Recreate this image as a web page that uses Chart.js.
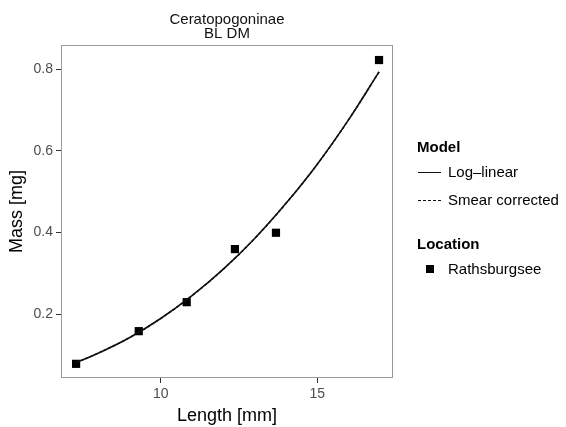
<!DOCTYPE html>
<html>
<head>
<meta charset="utf-8">
<title>Ceratopogoninae BL DM</title>
<script src="https://cdn.jsdelivr.net/npm/chart.js@4/dist/chart.umd.min.js"></script>
<style>
  html, body { margin: 0; padding: 0; background: #fff; }
  #wrap { position: relative; width: 566px; height: 427px; font-family: "Liberation Sans", Arial, sans-serif; }
  #legend { position: absolute; left: 417px; top: 136px; color: #000; font-size: 15px; }
  #legend .head { font-weight: bold; height: 22px; line-height: 22px; }
  #legend .item { height: 28px; line-height: 28px; position: relative; padding-left: 31px; }
  #legend .sw { position: absolute; left: 1px; top: 14px; width: 23px; height: 0; border-top: 1.5px solid #111; }
  #legend .sw.dash { border-top: 1.5px dashed #111; }
  #legend .sq { position: absolute; left: 9px; top: 10px; width: 8px; height: 8px; background: #000; }
</style>
</head>
<body>
<div id="wrap">
  <canvas id="c" width="566" height="427"></canvas>
  <div id="legend">
    <div class="head">Model</div>
    <div class="item"><span class="sw"></span>Log–linear</div>
    <div class="item"><span class="sw dash"></span>Smear corrected</div>
    <div style="height:19px"></div>
    <div class="head">Location</div>
    <div class="item"><span class="sq"></span>Rathsburgsee</div>
  </div>
</div>
<script>
// Beobachtungen (Länge in mm, Masse in mg)
const lengthObs = [7.30, 9.30, 10.83, 12.37, 13.68, 16.97];
const massObs = [0.078, 0.158, 0.229, 0.359, 0.399, 0.822];

// Modellkurve
const lengthFit = [7.3, 8, 9, 10, 11, 12, 13, 14, 15, 16, 16.97];
const massLogLinear = [0.081, 0.104, 0.142, 0.189, 0.245, 0.310, 0.385, 0.471, 0.567, 0.676, 0.793];
const massSmear = [0.081, 0.104, 0.142, 0.189, 0.245, 0.310, 0.385, 0.471, 0.567, 0.676, 0.793];

// Achsen
const xTicks = [10, 15];
const yTicks = [0.2, 0.4, 0.6, 0.8];
const titleLines = ['Ceratopogoninae', 'BL DM'];
const xTitle = 'Length [mm]';
const yTitle = 'Mass [mg]';

function toXY(xs, ys) {
    return xs.map((x, i) => ({ x: x, y: ys[i] }));
}

// Rahmen und Beschriftungen
const decor = {
    id: 'decor',
    afterDraw(chart) {
        const ctx = chart.ctx;
        const a = chart.chartArea;
        ctx.save();
        ctx.strokeStyle = '#9a9a9a';
        ctx.lineWidth = 1;
        ctx.strokeRect(Math.round(a.left) + 0.5, Math.round(a.top) + 0.5,
            Math.round(a.right - a.left) - 1, Math.round(a.bottom - a.top) - 1);

        ctx.fillStyle = '#111';
        ctx.textAlign = 'center';
        ctx.textBaseline = 'alphabetic';
        ctx.font = '15px "Liberation Sans", Arial, sans-serif';
        const cx = (a.left + a.right) / 2;
        ctx.fillText(titleLines[0], cx, 24);
        ctx.fillText(titleLines[1], cx, 38);

        ctx.fillStyle = '#000';
        ctx.font = '18px "Liberation Sans", Arial, sans-serif';
        ctx.fillText(xTitle, cx, 421);

        ctx.translate(22, (a.top + a.bottom) / 2);
        ctx.rotate(-Math.PI / 2);
        ctx.fillText(yTitle, 0, 0);
        ctx.restore();
    }
};

const ctx = document.getElementById('c').getContext('2d');
new Chart(ctx, {
    type: 'scatter',
    data: {
        datasets: [
            {
                label: 'Smear corrected',
                data: toXY(lengthFit, massSmear),
                showLine: true,
                borderColor: '#111',
                borderWidth: 1.5,
                borderDash: [3, 2],
                pointRadius: 0,
                tension: 0.4
            },
            {
                label: 'Log–linear',
                data: toXY(lengthFit, massLogLinear),
                showLine: true,
                borderColor: '#111',
                borderWidth: 1.6,
                pointRadius: 0,
                tension: 0.4
            },
            {
                label: 'Rathsburgsee',
                data: toXY(lengthObs, massObs),
                pointStyle: 'rect',
                pointRadius: 5.8,
                pointBackgroundColor: '#000',
                pointBorderWidth: 0,
                showLine: false
            }
        ]
    },
    options: {
        responsive: false,
        animation: false,
        events: [],
        layout: { padding: { top: 45, right: 173, left: 0, bottom: 0 } },
        plugins: {
            legend: { display: false },
            tooltip: { enabled: false },
            title: { display: false }
        },
        scales: {
            x: {
                type: 'linear',
                min: 6.818,
                max: 17.416,
                afterBuildTicks: s => { s.ticks = xTicks.map(v => ({ value: v })); },
                afterFit: s => { s.height = 49; },
                grid: { drawOnChartArea: false, drawTicks: true, tickLength: 5, color: '#333', lineWidth: 1 },
                border: { display: false },
                ticks: { color: '#4d4d4d', padding: 3, font: { family: '"Liberation Sans", Arial, sans-serif', size: 14 } }
            },
            y: {
                type: 'linear',
                min: 0.0433,
                max: 0.8588,
                afterBuildTicks: s => { s.ticks = yTicks.map(v => ({ value: v })); },
                afterFit: s => { s.width = 61; },
                grid: { drawOnChartArea: false, drawTicks: true, tickLength: 5, color: '#333', lineWidth: 1 },
                border: { display: false },
                ticks: {
                    color: '#4d4d4d',
                    padding: 3,
                    font: { family: '"Liberation Sans", Arial, sans-serif', size: 14 },
                    callback: v => v.toFixed(1)
                }
            }
        }
    },
    plugins: [decor]
});
</script>
</body>
</html>
